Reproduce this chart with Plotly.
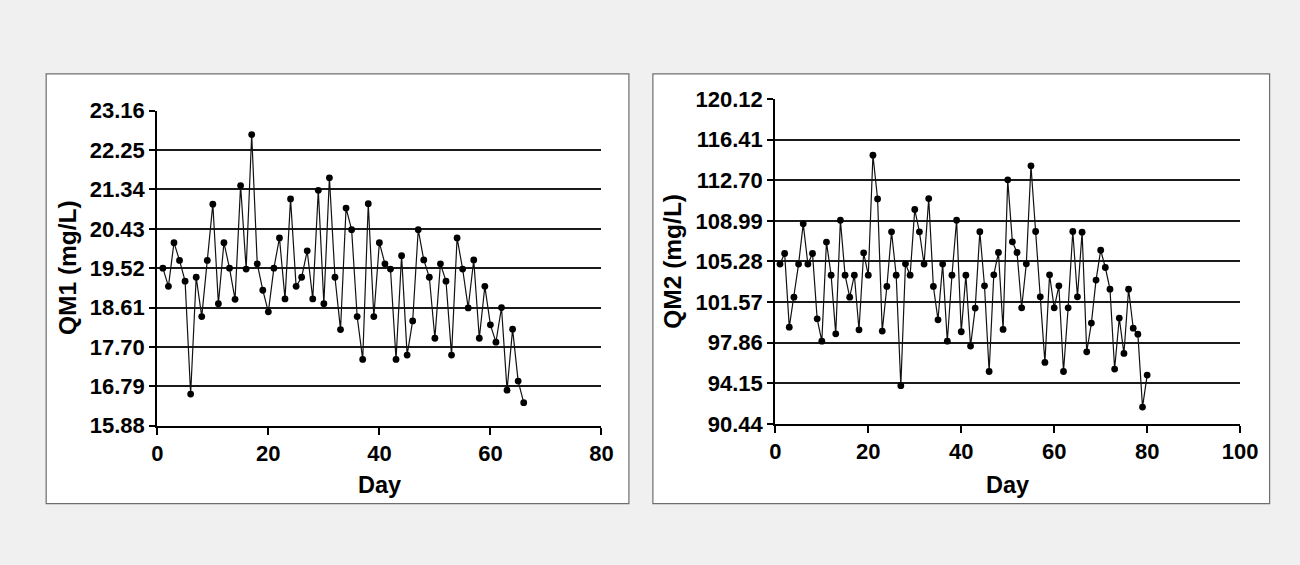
import plotly.graph_objects as go

# ---- data ----
qm1_days = list(range(1, 67))
qm1_values = [19.52, 19.10, 20.11, 19.70, 19.22, 16.61, 19.31, 18.40, 19.70, 21.00,
              18.70, 20.11, 19.52, 18.80, 21.43, 19.50, 22.61, 19.62, 19.01, 18.51,
              19.52, 20.22, 18.81, 21.12, 19.10, 19.31, 19.92, 18.81, 21.32, 18.70,
              21.61, 19.31, 18.10, 20.91, 20.41, 18.40, 17.41, 21.01, 18.40, 20.11,
              19.62, 19.50, 17.41, 19.81, 17.51, 18.30, 20.41, 19.71, 19.31, 17.90,
              19.62, 19.22, 17.51, 20.22, 19.50, 18.60, 19.71, 17.90, 19.10, 18.21,
              17.81, 18.61, 16.70, 18.11, 16.91, 16.41]
qm1_ticks = [15.88, 16.79, 17.70, 18.61, 19.52, 20.43, 21.34, 22.25, 23.16]
qm1_ticktext = ["15.88", "16.79", "17.70", "18.61", "19.52", "20.43", "21.34", "22.25", "23.16"]
qm1_xticks = [0, 20, 40, 60, 80]

qm2_days = list(range(1, 81))
qm2_values = [105.04, 106.01, 99.28, 102.02, 105.04, 108.72, 105.04, 106.01, 100.04, 98.00,
              107.05, 104.03, 98.67, 109.05, 104.03, 102.02, 104.03, 99.04, 106.07, 104.03,
              114.99, 111.00, 98.92, 103.00, 107.99, 104.03, 93.93, 105.07, 104.03, 110.03,
              107.99, 105.04, 111.03, 103.00, 99.95, 105.04, 98.00, 104.03, 109.05, 98.86,
              104.03, 97.55, 101.02, 108.00, 103.06, 95.23, 104.06, 106.10, 99.07, 112.74,
              107.08, 106.10, 101.05, 105.07, 114.02, 108.02, 102.05, 96.06, 104.06, 101.05,
              103.06, 95.23, 101.05, 108.02, 102.05, 107.96, 97.03, 99.65, 103.58, 106.31,
              104.73, 102.75, 95.45, 100.11, 96.88, 102.75, 99.19, 98.64, 91.98, 94.90]
qm2_ticks = [90.44, 94.15, 97.86, 101.57, 105.28, 108.99, 112.70, 116.41, 120.12]
qm2_ticktext = ["90.44", "94.15", "97.86", "101.57", "105.28", "108.99", "112.70", "116.41", "120.12"]
qm2_xticks = [0, 20, 40, 60, 80, 100]

W, H = 1300, 549
FONT = "Liberation Sans"

# layout positions are given in target-picture pixels and converted to paper fractions
def px(xs):
    return ((xs - 5.3) / 0.982) / W

def py(ys):
    return 1 - ((ys - 12.0) / 0.957) / H

fig = go.Figure()

line_style = dict(color="#111111", width=1.2)
marker_style = dict(color="#000000", size=6.8, symbol="circle")

fig.add_trace(go.Scatter(x=qm1_days, y=qm1_values, mode="lines+markers",
                         line=line_style, marker=marker_style, xaxis="x", yaxis="y",
                         showlegend=False))
fig.add_trace(go.Scatter(x=qm2_days, y=qm2_values, mode="lines+markers",
                         line=line_style, marker=marker_style, xaxis="x2", yaxis="y2",
                         showlegend=False))

tickfont = dict(family=FONT, size=22, color="#000000", weight="bold")
titlefont = dict(family=FONT, size=24.5, color="#000000", weight="bold")
dayfont = dict(family=FONT, size=23.5, color="#000000", weight="bold")

def xaxis(domain, ticks, rng, anchor):
    return dict(domain=domain, range=rng, tickvals=ticks, ticktext=[str(t) for t in ticks],
                showline=True, linecolor="#000000", linewidth=2.3, ticks="outside",
                ticklen=7, tickwidth=2.3, tickcolor="#000000", showgrid=False,
                zeroline=False, tickfont=tickfont, anchor=anchor, fixedrange=True)

def yaxis(domain, ticks, ticktext, anchor):
    return dict(domain=domain, range=[ticks[0], ticks[-1]], tickvals=ticks, ticktext=ticktext,
                showline=True, linecolor="#000000", linewidth=2.3, ticks="outside",
                ticklen=6, tickwidth=2.3, tickcolor="#000000", showgrid=True,
                gridcolor="#1a1a1a", gridwidth=1.7, zeroline=False, tickfont=tickfont,
                anchor=anchor, fixedrange=True)

fig.update_layout(
    width=W, height=H,
    margin=dict(l=0, r=0, t=0, b=0),
    paper_bgcolor="#f0f0f0",
    plot_bgcolor="#ffffff",
    xaxis=xaxis([px(156.7), px(601)], qm1_xticks, [0, 80], "y"),
    yaxis=yaxis([py(426.7), py(111)], qm1_ticks, qm1_ticktext, "x"),
    xaxis2=xaxis([px(775), px(1240)], qm2_xticks, [0, 100], "y2"),
    yaxis2=yaxis([py(425), py(99.3)], qm2_ticks, qm2_ticktext, "x2"),
    shapes=[
        dict(type="rect", xref="paper", yref="paper", x0=px(45.5), x1=px(628.5),
             y0=py(505), y1=py(74), fillcolor="#ffffff",
             line=dict(color="#6e6e6e", width=1.2), layer="below"),
        dict(type="rect", xref="paper", yref="paper", x0=px(652.5), x1=px(1269.5),
             y0=py(505), y1=py(74), fillcolor="#ffffff",
             line=dict(color="#6e6e6e", width=1.2), layer="below"),
    ],
    annotations=[
        dict(text="QM1 (mg/L)", xref="paper", yref="paper", x=px(67), y=py(268),
             textangle=-90, showarrow=False, xanchor="center", yanchor="middle",
             font=titlefont),
        dict(text="QM2 (mg/L)", xref="paper", yref="paper", x=px(672), y=py(262),
             textangle=-90, showarrow=False, xanchor="center", yanchor="middle",
             font=titlefont),
        dict(text="Day", xref="paper", yref="paper", x=px(379), y=py(486),
             showarrow=False, xanchor="center", yanchor="middle", font=dayfont),
        dict(text="Day", xref="paper", yref="paper", x=px(1007), y=py(486),
             showarrow=False, xanchor="center", yanchor="middle", font=dayfont),
    ],
)

fig.write_html(
    "out.html",
    config={"responsive": False, "displayModeBar": False},
    post_script=(
        "document.body.style.margin='0';"
        "document.body.style.overflow='hidden';"
        "document.documentElement.style.background="
        "'linear-gradient(to bottom, #fbfbfb 0px, #fbfbfb 9px, #f0f0f0 9px)';"
    ),
)
